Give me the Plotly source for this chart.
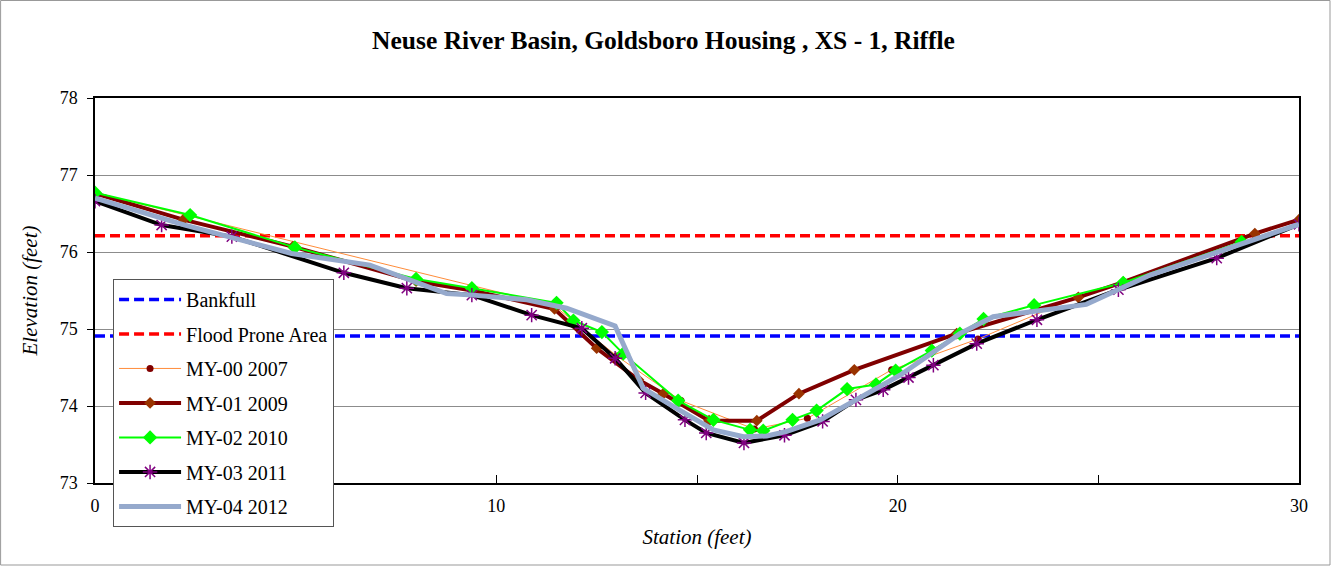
import plotly.graph_objects as go

# ---- data ----
bankfull_x = [0, 30]
bankfull_y = [74.91, 74.91]
flood_x = [0, 30]
flood_y = [76.21, 76.21]

my00_x = [0.0, 11.45, 13.0, 14.6, 16.43, 17.75, 19.85, 22.0, 24.5, 28.9, 30.0]
my00_y = [76.77, 75.30, 74.65, 74.07, 73.70, 73.84, 74.47, 74.87, 75.42, 76.22, 76.42]

my01_x = [0.0, 2.2, 4.93, 8.0, 9.4, 11.45, 12.5, 13.54, 14.16, 15.3, 16.49, 17.54, 18.92, 21.47, 24.5, 25.62, 28.9, 30.0]
my01_y = [76.76, 76.42, 76.07, 75.62, 75.50, 75.26, 74.75, 74.34, 74.16, 73.81, 73.81, 74.16, 74.47, 74.94, 75.41, 75.61, 76.24, 76.42]

my02_x = [0.0, 2.37, 4.98, 8.0, 9.39, 11.5, 11.92, 12.63, 13.16, 14.53, 15.41, 16.32, 16.65, 17.38, 17.98, 18.74, 19.46, 19.95, 20.85, 21.55, 22.14, 23.4, 25.62, 28.57]
my02_y = [76.77, 76.48, 76.06, 75.65, 75.53, 75.34, 75.11, 74.96, 74.68, 74.07, 73.82, 73.69, 73.68, 73.82, 73.94, 74.22, 74.28, 74.46, 74.72, 74.94, 75.13, 75.31, 75.60, 76.13]

my03_x = [0.0, 1.66, 3.41, 6.2, 7.77, 9.39, 10.88, 12.13, 12.96, 13.72, 14.70, 15.23, 16.17, 17.18, 18.13, 18.96, 19.64, 20.27, 20.89, 21.97, 23.47, 25.5, 27.95, 30.0]
my03_y = [76.66, 76.35, 76.20, 75.73, 75.53, 75.44, 75.18, 75.01, 74.62, 74.17, 73.82, 73.65, 73.52, 73.62, 73.80, 74.08, 74.21, 74.37, 74.53, 74.81, 75.12, 75.51, 75.92, 76.36]

my04_x = [0.0, 2.24, 4.9, 6.06, 6.85, 8.76, 9.42, 10.76, 11.75, 12.96, 13.66, 14.49, 15.41, 16.16, 16.74, 17.24, 18.07, 20.06, 21.55, 22.38, 23.47, 24.7, 26.29, 30.0]
my04_y = [76.70, 76.35, 75.98, 75.90, 75.83, 75.46, 75.44, 75.38, 75.27, 75.04, 74.23, 73.97, 73.69, 73.60, 73.61, 73.67, 73.82, 74.40, 74.94, 75.16, 75.23, 75.32, 75.70, 76.36]

title = "Neuse River Basin, Goldsboro Housing , XS - 1, Riffle"
x_title = "Station (feet)"
y_title = "Elevation (feet)"

FONT = "Liberation Serif, Times New Roman, serif"

fig = go.Figure()
fig.add_trace(go.Scatter(x=bankfull_x, y=bankfull_y, mode="lines", name="Bankfull",
                         line=dict(color="#0000FF", width=3.5, dash="10px,5px"), legendgroup="a"))
fig.add_trace(go.Scatter(x=flood_x, y=flood_y, mode="lines", name="Flood Prone Area",
                         line=dict(color="#FF0000", width=3.5, dash="10px,5px"), legendgroup="b"))
fig.add_trace(go.Scatter(x=my00_x, y=my00_y, mode="lines+markers", name="MY-00 2007",
                         line=dict(color="#FF8C3A", width=1),
                         marker=dict(symbol="circle", size=7, color="#800000"), legendgroup="c"))
fig.add_trace(go.Scatter(x=my01_x, y=my01_y, mode="lines+markers", name="MY-01 2009",
                         line=dict(color="#800000", width=4),
                         marker=dict(symbol="diamond", size=9, color="#993300"), legendgroup="d"))
fig.add_trace(go.Scatter(x=my02_x, y=my02_y, mode="lines+markers", name="MY-02 2010",
                         line=dict(color="#00FF00", width=2),
                         marker=dict(symbol="diamond", size=11, color="#00FF00"), legendgroup="e"))
fig.add_trace(go.Scatter(x=my03_x, y=my03_y, mode="lines+markers", name="MY-03 2011",
                         line=dict(color="#000000", width=4),
                         marker=dict(symbol="asterisk-open", size=12, color="#800080",
                                     line=dict(color="#800080", width=1.5)), legendgroup="f"))
fig.add_trace(go.Scatter(x=my04_x, y=my04_y, mode="lines", name="MY-04 2012",
                         line=dict(color="#95A9CC", width=5), legendgroup="g"))

fig.update_layout(
    width=1331, height=566,
    paper_bgcolor="white", plot_bgcolor="white",
    margin=dict(l=95, r=32, t=98, b=83),
    font=dict(family=FONT, size=18, color="black"),
    title=dict(text="<b>" + title + "</b>", x=0.4985, xanchor="center", y=0.93, yanchor="middle",
               yref="container", font=dict(family=FONT, size=25.5, color="black")),
    showlegend=True,
    legend=dict(x=0.015, y=0.53, xanchor="left", yanchor="top",
                bgcolor="white", bordercolor="#555555", borderwidth=1,
                font=dict(family=FONT, size=20, color="black"),
                tracegroupgap=5.5, itemwidth=62),
    shapes=[dict(type="rect", xref="paper", yref="paper",
                 x0=-95/1204 + 0.0005, x1=1 + 31/1204, y0=-82/385, y1=1 + 97.5/385,
                 line=dict(color="#999999", width=1), fillcolor="rgba(0,0,0,0)", layer="below")],
)

fig.update_xaxes(range=[0, 30], dtick=10, tick0=0, showgrid=False, zeroline=False,
                 showline=True, linecolor="black", linewidth=1.5, mirror=True,
                 ticks="inside", ticklen=8, tickcolor="black", ticklabelstandoff=6,
                 minor=dict(dtick=5, ticks="inside", ticklen=8, tickcolor="black"),
                 tickfont=dict(family=FONT, size=18),
                 title=dict(text="<i>" + x_title + "</i>", font=dict(family=FONT, size=21), standoff=14))
fig.update_yaxes(range=[73, 78], dtick=1, showgrid=True, gridcolor="#8C8C8C", gridwidth=1,
                 zeroline=False, showline=True, linecolor="black", linewidth=1.5, mirror=True,
                 ticks="outside", ticklen=6, tickcolor="black", ticklabelstandoff=6,
                 tickfont=dict(family=FONT, size=18),
                 title=dict(text="<i>" + y_title + "</i>", font=dict(family=FONT, size=21), standoff=16))

fig.write_html("out.html", config={"displayModeBar": False},
               post_script="document.body.style.margin='0px';")
